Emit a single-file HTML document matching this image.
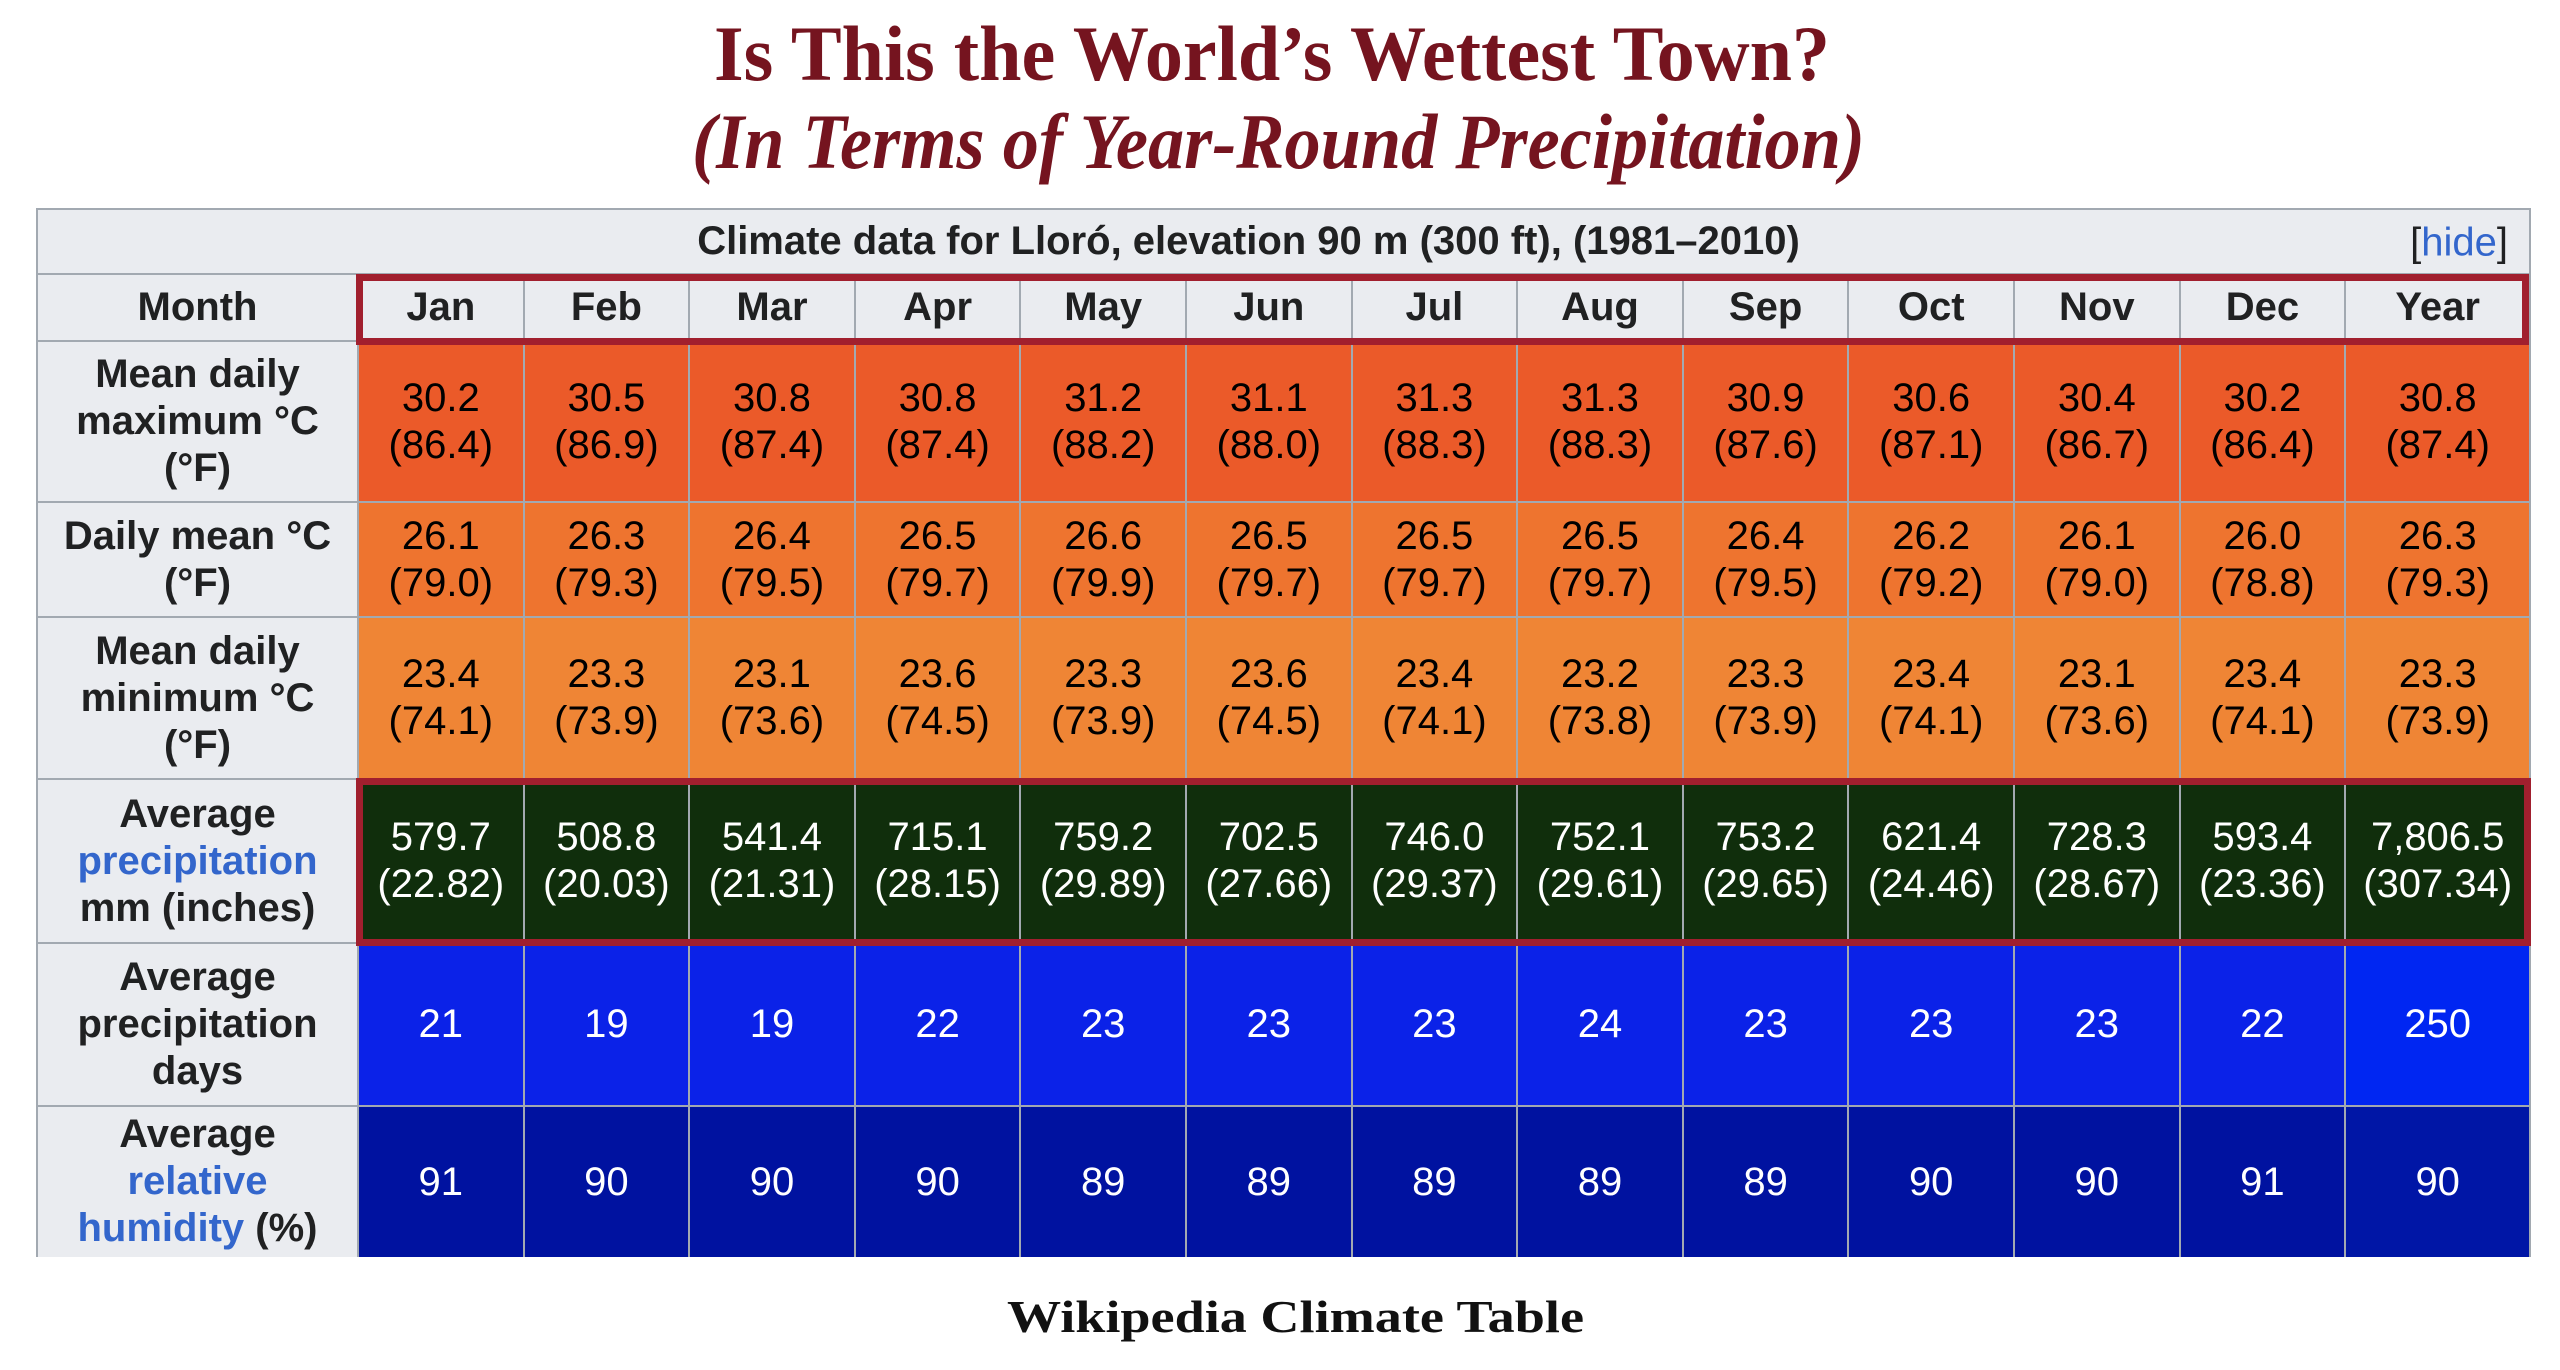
<!DOCTYPE html>
<html><head><meta charset="utf-8">
<style>
body{margin:0;width:2560px;height:1370px;background:#fff;position:relative;overflow:hidden;font-family:"Liberation Sans",Arial,sans-serif}
.c{position:absolute;box-sizing:border-box;display:flex;align-items:center;justify-content:center;text-align:center;font-size:40px;line-height:47px;border-right:2px solid #a2a9b1;border-bottom:2px solid #a2a9b1}
.c > div{width:100%}
.lab{background:#eaecf0;color:#202122;font-weight:bold}
.lk{color:#3366cc}
.box{position:absolute;border:7px solid #a11f2e;box-sizing:border-box;pointer-events:none}
</style></head><body>
<svg style="position:absolute;left:0;top:0" width="2560" height="200">
<text x="714" y="80" textLength="1116" lengthAdjust="spacingAndGlyphs" font-family="Liberation Serif, serif" font-weight="bold" font-size="78" fill="#75141f">Is This the World’s Wettest Town?</text>
<text x="692" y="168" textLength="1173" lengthAdjust="spacingAndGlyphs" font-family="Liberation Serif, serif" font-weight="bold" font-style="italic" font-size="78" fill="#75141f">(In Terms of Year-Round Precipitation)</text>
</svg>
<div id="tbl"></div>
<svg style="position:absolute;left:0;top:1280" width="2560" height="80">
<text x="1007" y="52" textLength="577" lengthAdjust="spacingAndGlyphs" font-family="Liberation Serif, serif" font-weight="bold" font-size="46" fill="#111">Wikipedia Climate Table</text>
</svg>
<script>
const months = ["Jan","Feb","Mar","Apr","May","Jun","Jul","Aug","Sep","Oct","Nov","Dec","Year"];
const maxC = ["30.2","30.5","30.8","30.8","31.2","31.1","31.3","31.3","30.9","30.6","30.4","30.2","30.8"];
const maxF = ["86.4","86.9","87.4","87.4","88.2","88.0","88.3","88.3","87.6","87.1","86.7","86.4","87.4"];
const meanC = ["26.1","26.3","26.4","26.5","26.6","26.5","26.5","26.5","26.4","26.2","26.1","26.0","26.3"];
const meanF = ["79.0","79.3","79.5","79.7","79.9","79.7","79.7","79.7","79.5","79.2","79.0","78.8","79.3"];
const minC = ["23.4","23.3","23.1","23.6","23.3","23.6","23.4","23.2","23.3","23.4","23.1","23.4","23.3"];
const minF = ["74.1","73.9","73.6","74.5","73.9","74.5","74.1","73.8","73.9","74.1","73.6","74.1","73.9"];
const precMm = ["579.7","508.8","541.4","715.1","759.2","702.5","746.0","752.1","753.2","621.4","728.3","593.4","7,806.5"];
const precIn = ["22.82","20.03","21.31","28.15","29.89","27.66","29.37","29.61","29.65","24.46","28.67","23.36","307.34"];
const precDays = ["21","19","19","22","23","23","23","24","23","23","23","22","250"];
const humidity = ["91","90","90","90","89","89","89","89","89","90","90","91","90"];

const T = document.getElementById('tbl');
const L=36, LW=323, CX=359, CW=165.6, YW=185;
function colX(i){return CX+i*CW;}
function colW(i){return i===12?YW:CW;}
function cell(x,y,w,h,html,cls,bg,fg,name){
  const d=document.createElement('div');
  d.className='c '+(cls||'');
  d.style.left=x+'px';d.style.top=y+'px';d.style.width=w+'px';d.style.height=h+'px';
  if(bg)d.style.background=bg; if(fg)d.style.color=fg;
  d.innerHTML='<div>'+html+'</div>';
  
  
  T.appendChild(d);return d;
}
const hd=cell(L,208,2531-L,67,'Climate data for Lloró, elevation 90 m (300 ft), (1981–2010)','lab',null,null,'table-caption');
hd.style.borderTop='2px solid #a2a9b1';hd.style.borderLeft='2px solid #a2a9b1';hd.style.paddingRight='70px';
const hide=document.createElement('div');
hide.innerHTML='[<span class="lk">hide</span>]';
hide.style.cssText='position:absolute;right:52px;top:243px;transform:translateY(-50%);font-size:40px;color:#202122';


document.body.appendChild(hide);

const rows=[
 {y:275,h:67,label:'Month',bg:'#eaecf0',fg:'#202122',bold:true,vals:months.map(m=>m),name:'month'},
 {y:342,h:161,label:'Mean daily<br>maximum °C<br>(°F)',bg:'#eb5a29',fg:'#000',vals:maxC.map((v,i)=>v+'<br>('+maxF[i]+')'),name:'max-temp'},
 {y:503,h:115,label:'Daily mean °C<br>(°F)',bg:'#ee742f',fg:'#000',vals:meanC.map((v,i)=>v+'<br>('+meanF[i]+')'),name:'mean-temp'},
 {y:618,h:162,label:'Mean daily<br>minimum °C<br>(°F)',bg:'#ef8535',fg:'#000',vals:minC.map((v,i)=>v+'<br>('+minF[i]+')'),name:'min-temp'},
 {y:780,h:164,label:'Average<br><span class="lk">precipitation</span><br>mm (inches)',bg:'#102e0c',fg:'#fff',vals:precMm.map((v,i)=>v+'<br>('+precIn[i]+')'),name:'precipitation'},
 {y:944,h:163,label:'Average<br>precipitation<br>days',bg:'#0b22e8',ybg:'#0026f2',fg:'#fff',vals:precDays,name:'precip-days'},
 {y:1107,h:150,label:'Average<br><span class="lk">relative</span><br><span class="lk">humidity</span> (%)',bg:'#0012a0',ybg:'#0016a6',fg:'#fff',vals:humidity,name:'humidity'}
];
rows.forEach(r=>{
  const lb=cell(L,r.y,LW,r.h,r.label,'lab',null,null,r.name+'-label');
  lb.style.borderLeft='2px solid #a2a9b1';
  if(r.name==='humidity'){lb.style.alignItems='flex-start';lb.style.paddingTop='4px';lb.style.borderBottom='none';lb.style.overflow='hidden';}
  r.vals.forEach((v,i)=>{
    const c=cell(colX(i),r.y,colW(i),r.h,v,r.bold?'lab':'',(i===12&&r.ybg)?r.ybg:r.bg,r.fg,r.name+'-'+months[i].toLowerCase());
    if(r.name==='humidity')c.style.borderBottom='none';
  });
});
const b1=document.createElement('div');b1.className='box';
b1.style.cssText='left:356px;top:274px;width:2173px;height:71px';


document.body.appendChild(b1);
const b2=document.createElement('div');b2.className='box';
b2.style.cssText='left:356px;top:778px;width:2175px;height:168px';


document.body.appendChild(b2);
</script>
</body></html>
